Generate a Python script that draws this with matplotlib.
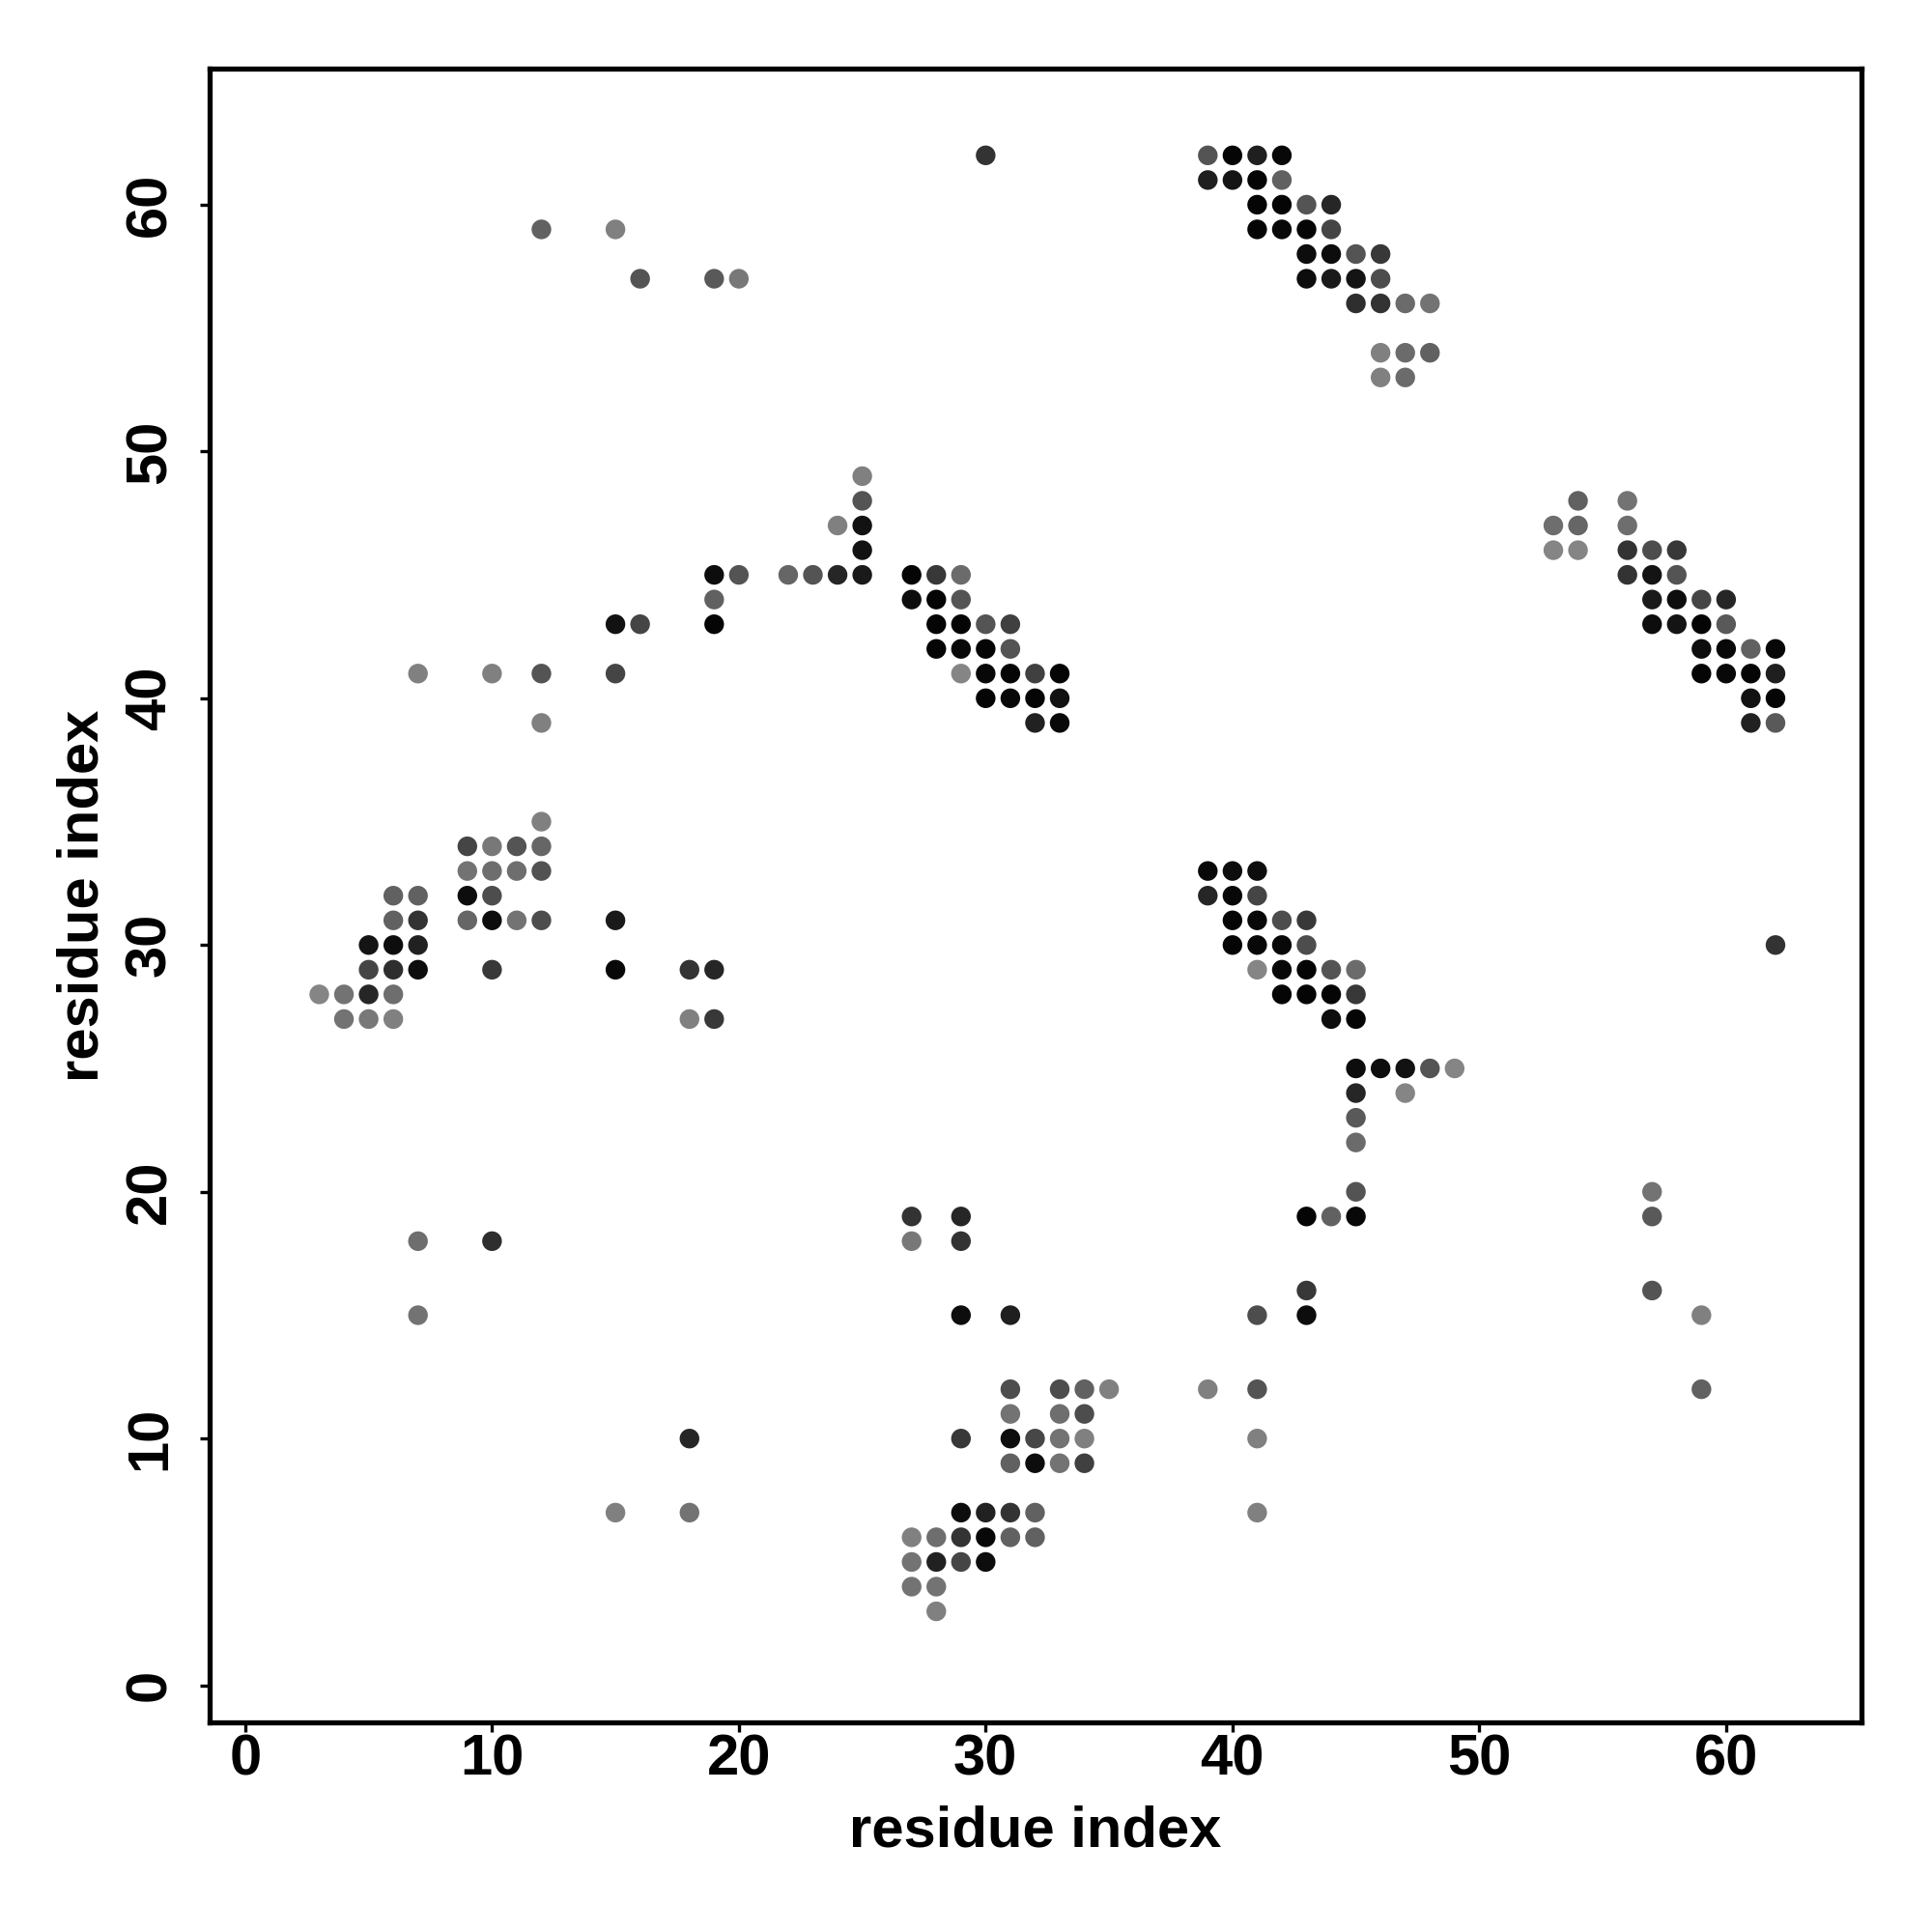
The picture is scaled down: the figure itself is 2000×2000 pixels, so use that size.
import matplotlib
matplotlib.use("Agg")
import matplotlib.pyplot as plt

# contact map: residue i, residue j, grey level (0 = black)
res_i = [
    30, 39, 40, 41, 42,
    39, 40, 41, 42,
    41, 42, 43, 44,
    12, 15, 41, 42, 43, 44,
    43, 44, 45, 46,
    16, 19, 20, 43, 44, 45, 46,
    45, 46, 47, 48,
    46, 47, 48,
    46, 47,
    25,
    25, 54, 56,
    24, 25, 53, 54, 56,
    25, 53, 54, 56, 57, 58,
    19, 20, 22, 23, 24, 25, 27, 28, 29, 56, 57, 58,
    19, 27, 28, 29, 57, 58, 59, 60,
    15, 16, 19, 28, 29, 30, 31, 57, 58, 59, 60,
    28, 29, 30, 31, 59, 60, 61, 62,
    7, 10, 12, 15, 29, 30, 31, 32, 33, 59, 60, 61, 62,
    30, 31, 32, 33, 61, 62,
    12, 32, 33, 61, 62,
    12,
    9, 10, 11, 12,
    9, 10, 11, 12, 39, 40, 41,
    6, 7, 9, 10, 39, 40, 41,
    6, 7, 9, 10, 11, 12, 15, 40, 41, 42, 43,
    5, 6, 7, 40, 41, 42, 43, 62,
    5, 6, 7, 10, 15, 18, 19, 41, 42, 43, 44, 45,
    3, 4, 5, 6, 42, 43, 44, 45,
    4, 5, 6, 18, 19, 44, 45,
    45, 46, 47, 48, 49,
    45, 47,
    45,
    45,
    45, 57,
    27, 29, 43, 44, 45, 57,
    7, 10, 27, 29,
    43, 57,
    7, 29, 31, 41, 43, 59,
    31, 33, 34, 35, 39, 41, 59,
    31, 33, 34,
    18, 29, 31, 32, 33, 34, 41,
    31, 32, 33, 34,
    15, 18, 29, 30, 31, 32, 41,
    27, 28, 29, 30, 31, 32,
    27, 28, 29, 30,
    27, 28,
    28,
]
res_j = [
    62, 62, 62, 62, 62,
    61, 61, 61, 61,
    60, 60, 60, 60,
    59, 59, 59, 59, 59, 59,
    58, 58, 58, 58,
    57, 57, 57, 57, 57, 57, 57,
    56, 56, 56, 56,
    54, 54, 54,
    53, 53,
    49,
    48, 48, 48,
    47, 47, 47, 47, 47,
    46, 46, 46, 46, 46, 46,
    45, 45, 45, 45, 45, 45, 45, 45, 45, 45, 45, 45,
    44, 44, 44, 44, 44, 44, 44, 44,
    43, 43, 43, 43, 43, 43, 43, 43, 43, 43, 43,
    42, 42, 42, 42, 42, 42, 42, 42,
    41, 41, 41, 41, 41, 41, 41, 41, 41, 41, 41, 41, 41,
    40, 40, 40, 40, 40, 40,
    39, 39, 39, 39, 39,
    35,
    34, 34, 34, 34,
    33, 33, 33, 33, 33, 33, 33,
    32, 32, 32, 32, 32, 32, 32,
    31, 31, 31, 31, 31, 31, 31, 31, 31, 31, 31,
    30, 30, 30, 30, 30, 30, 30, 30,
    29, 29, 29, 29, 29, 29, 29, 29, 29, 29, 29, 29,
    28, 28, 28, 28, 28, 28, 28, 28,
    27, 27, 27, 27, 27, 27, 27,
    25, 25, 25, 25, 25,
    24, 24,
    23,
    22,
    20, 20,
    19, 19, 19, 19, 19, 19,
    18, 18, 18, 18,
    16, 16,
    15, 15, 15, 15, 15, 15,
    12, 12, 12, 12, 12, 12, 12,
    11, 11, 11,
    10, 10, 10, 10, 10, 10, 10,
    9, 9, 9, 9,
    7, 7, 7, 7, 7, 7, 7,
    6, 6, 6, 6, 6, 6,
    5, 5, 5, 5,
    4, 4,
    3,
]
grey = [
    .20, .33, .02, .12, .03,
    .12, .08, .02, .38,
    .02, .02, .33, .15,
    .38, .50, .02, .03, .02, .27,
    .05, .05, .33, .22,
    .33, .35, .47, .05, .10, .08, .30,
    .18, .20, .42, .45,
    .50, .42, .38,
    .50, .42,
    .50,
    .33, .38, .45,
    .50, .07, .43, .40, .43,
    .07, .52, .52, .20, .30, .22,
    .05, .33, .40, .33, .15, .10, .02, .22, .42, .20, .08, .33,
    .38, .05, .02, .33, .10, .05, .27, .15,
    .07, .27, .02, .02, .02, .33, .25, .05, .08, .02, .35,
    .02, .03, .02, .33, .05, .03, .38, .03,
    .50, .50, .33, .27, .52, .03, .02, .25, .02, .02, .03, .02, .12,
    .02, .03, .02, .07, .07, .02,
    .50, .13, .03, .13, .35,
    .50,
    .27, .47, .33, .40,
    .45, .43, .43, .32, .03, .05, .05,
    .38, .38, .05, .30, .15, .03, .27,
    .38, .20, .40, .05, .45, .30, .10, .02, .03, .30, .22,
    .08, .05, .13, .02, .03, .03, .30, .20,
    .27, .18, .05, .22, .03, .20, .15, .52, .03, .02, .33, .42,
    .52, .45, .15, .43, .02, .02, .02, .22,
    .45, .47, .50, .50, .22, .05, .02,
    .05, .05, .07, .33, .52,
    .15, .52,
    .35,
    .42,
    .33, .45,
    .20, .15, .02, .38, .03, .35,
    .43, .18, .47, .20,
    .22, .33,
    .45, .05, .12, .30, .05, .50,
    .30, .30, .38, .50, .50, .33, .38,
    .45, .43, .30,
    .15, .22, .05, .28, .45, .50, .50,
    .38, .05, .45, .25,
    .50, .45, .05, .13, .20, .38, .50,
    .50, .43, .20, .03, .38, .38,
    .45, .13, .27, .05,
    .45, .45,
    .50,
]

plt.rcParams['font.family'] = ['Liberation Sans', 'DejaVu Sans']

fig = plt.figure(figsize=(20, 20), dpi=100)
ax = fig.add_axes([0.1084, 0.1085, 0.8553, 0.8558])

cols = [(g, g, g) for g in grey]
ax.scatter(res_i, res_j, s=215, c=cols, edgecolors='none')

ax.set_xlim(-1.45, 65.5)
ax.set_ylim(-1.5, 65.5)
ax.set_xticks(range(0, 61, 10))
ax.set_yticks(range(0, 61, 10))

for sp in ax.spines.values():
    sp.set_linewidth(3.8)

ax.tick_params(axis='both', length=7, width=2.4, labelsize=43)
ax.tick_params(axis='x', pad=1)
ax.tick_params(axis='y', pad=17)
for lab in ax.get_xticklabels():
    lab.set_fontweight('bold')
for lab in ax.get_yticklabels():
    lab.set_fontweight('bold')
    lab.set_rotation(90)
    lab.set_va('center')

fig.text(0.536, 0.0445, 'residue index', ha='center', va='baseline',
         fontsize=43, fontweight='bold')
fig.text(0.051, 0.5364, 'residue index', ha='center', va='baseline',
         rotation=90, rotation_mode='anchor', fontsize=43, fontweight='bold')

fig.savefig('out.png', dpi=100)
